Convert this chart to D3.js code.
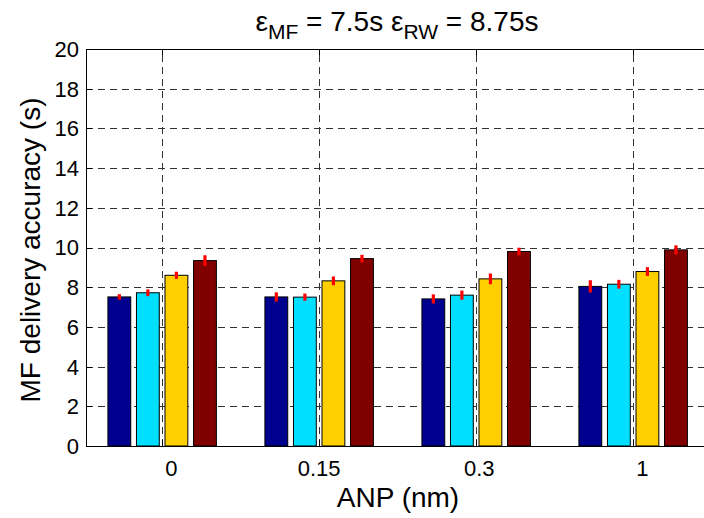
<!DOCTYPE html>
<html>
<head>
<meta charset="utf-8">
<script src="https://cdn.jsdelivr.net/npm/d3@7"></script>
<style>
  html, body { margin: 0; padding: 0; background: #fff; }
  svg { display: block; font-family: "Liberation Sans", Arial, sans-serif; }
</style>
</head>
<body>
<svg id="chart" width="704" height="518"></svg>
<script>
// ---- data ----
const categories = ["0", "0.15", "0.3", "1"];
const tickLabels = ["   0", "0.15", " 0.3", "   1"];
const s1 = [7.51, 7.51, 7.41, 8.04];
const s2 = [7.72, 7.50, 7.60, 8.15];
const s3 = [8.60, 8.32, 8.42, 8.79];
const s4 = [9.34, 9.44, 9.80, 9.88];
const e1 = [0.14, 0.23, 0.23, 0.31];
const e2 = [0.17, 0.18, 0.23, 0.22];
const e3 = [0.18, 0.22, 0.27, 0.22];
const e4 = [0.27, 0.19, 0.19, 0.23];
const yTicks = [0, 2, 4, 6, 8, 10, 12, 14, 16, 18, 20];
const colors = ["#00008f", "#00dfff", "#ffcf00", "#800000"];

const values = [s1, s2, s3, s4];
const errors = [e1, e2, e3, e4];

(function () {
// ---- layout ----
const svg = d3.select("#chart");
const L = 86, T = 49, B = 446, R = 704;
const x = d3.scaleLinear().domain([0.515, 4.5]).range([L, L + 3.985 * 157]);
const y = d3.scaleLinear().domain([0, 20]).range([B, T]);

const nb = 4;
const groupW = Math.min(0.8, nb / (nb + 1.5));
const step = groupW / nb;
const barW = 0.8 * step;

svg.append("defs").append("clipPath").attr("id", "clip")
  .append("rect").attr("x", L).attr("y", T).attr("width", R - L).attr("height", B - T);

const g = svg.append("g").attr("clip-path", "url(#clip)");

const dash = "7,5";
const gridCol = "#333";
const centers = categories.map((c, i) => i + 1);
g.selectAll(".hgrid").data(yTicks.filter(t => t > 0 && t < 20)).join("line")
  .attr("x1", L).attr("x2", R)
  .attr("y1", d => Math.round(y(d)) + 0.5).attr("y2", d => Math.round(y(d)) + 0.5)
  .attr("stroke", gridCol).attr("stroke-width", 1).attr("stroke-dasharray", dash);
g.selectAll(".vgrid").data(centers).join("line")
  .attr("x1", d => Math.round(x(d)) + 0.5).attr("x2", d => Math.round(x(d)) + 0.5)
  .attr("y1", B).attr("y2", T)
  .attr("stroke", gridCol).attr("stroke-width", 1).attr("stroke-dasharray", dash);

const tl = 6;
g.selectAll(".yt").data(yTicks).join("line")
  .attr("x1", L).attr("x2", L + tl)
  .attr("y1", d => Math.round(y(d)) + 0.5).attr("y2", d => Math.round(y(d)) + 0.5)
  .attr("stroke", "#000");
g.selectAll(".xtb").data(centers).join("line")
  .attr("x1", d => Math.round(x(d)) + 0.5).attr("x2", d => Math.round(x(d)) + 0.5)
  .attr("y1", B).attr("y2", B - tl).attr("stroke", "#000");
g.selectAll(".xtt").data(centers).join("line")
  .attr("x1", d => Math.round(x(d)) + 0.5).attr("x2", d => Math.round(x(d)) + 0.5)
  .attr("y1", T).attr("y2", T + tl).attr("stroke", "#000");

values.forEach((vals, si) => {
  const off = (si - (nb - 1) / 2) * step;
  g.selectAll(".bar" + si).data(vals).join("rect")
    .attr("x", (d, i) => x(i + 1 + off - barW / 2))
    .attr("width", x(barW) - x(0))
    .attr("y", d => y(d))
    .attr("height", d => y(0) - y(d))
    .attr("fill", colors[si])
    .attr("stroke", "#000").attr("stroke-width", 1);
});
values.forEach((vals, si) => {
  const off = (si - (nb - 1) / 2) * step;
  g.selectAll(".err" + si).data(vals).join("line")
    .attr("x1", (d, i) => x(i + 1 + off)).attr("x2", (d, i) => x(i + 1 + off))
    .attr("y1", (d, i) => y(d - errors[si][i])).attr("y2", (d, i) => y(d + errors[si][i]))
    .attr("stroke", "#ff0000").attr("stroke-width", 3.2);
});

svg.append("line").attr("x1", L + 0.5).attr("x2", L + 0.5).attr("y1", T).attr("y2", B + 0.5)
  .attr("stroke", "#000").attr("stroke-width", 1);
svg.append("line").attr("x1", L).attr("x2", R).attr("y1", B + 0.5).attr("y2", B + 0.5)
  .attr("stroke", "#000").attr("stroke-width", 1);
svg.append("line").attr("x1", L).attr("x2", R).attr("y1", T + 0.5).attr("y2", T + 0.5)
  .attr("stroke", "#000").attr("stroke-width", 1);

svg.selectAll(".ylab").data(yTicks).join("text")
  .attr("x", L - 7).attr("y", d => y(d))
  .attr("dy", "0.36em")
  .attr("text-anchor", "end")
  .attr("font-size", 22)
  .text(d => d);

svg.selectAll(".xlab").data(tickLabels).join("text")
  .attr("x", (d, i) => x(i + 1)).attr("y", B + 30)
  .attr("text-anchor", "middle")
  .attr("font-size", 22)
  .style("white-space", "pre")
  .text(d => d);

svg.append("text").attr("x", 398).attr("y", 507)
  .attr("text-anchor", "middle").attr("font-size", 28).text("ANP (nm)");
svg.append("text").attr("transform", "translate(40,250) rotate(-90)")
  .attr("text-anchor", "middle").attr("font-size", 28).text("MF delivery accuracy (s)");

const t = svg.append("text").attr("x", 397).attr("y", 31).attr("text-anchor", "middle").attr("font-size", 28);
t.append("tspan").text("ε");
t.append("tspan").attr("font-size", 21).attr("dy", 8).text("MF");
t.append("tspan").attr("dy", -8).text(" = 7.5s ε");
t.append("tspan").attr("font-size", 21).attr("dy", 8).text("RW");
t.append("tspan").attr("dy", -8).text(" = 8.75s");
})();
</script>
</body>
</html>
